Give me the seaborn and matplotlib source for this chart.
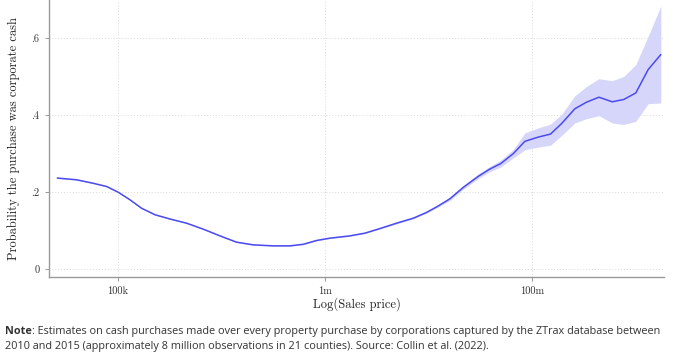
import numpy as np
import pandas as pd
import seaborn as sns
import matplotlib.pyplot as plt

# Binned log sales price (position on axis: 100k = 0, 1m = 1, 100m = 2)
log_price = [-0.293, -0.2, -0.12, -0.055, 0.0, 0.058, 0.114, 0.179, 0.251, 0.332,
             0.412, 0.493, 0.573, 0.654, 0.751, 0.831, 0.895, 0.96, 1.024, 1.121,
             1.193, 1.266, 1.346, 1.427, 1.491, 1.548, 1.604, 1.668, 1.741, 1.797,
             1.849, 1.91, 1.966, 2.03, 2.09, 2.143, 2.208, 2.264, 2.324, 2.388,
             2.444, 2.502, 2.562, 2.623]
prob_cash = [0.2365, 0.232, 0.223, 0.2146, 0.2, 0.18, 0.158, 0.141, 0.130, 0.119,
             0.1035, 0.086, 0.0696, 0.0626, 0.06, 0.06, 0.064, 0.074, 0.080, 0.086,
             0.093, 0.105, 0.119, 0.132, 0.147, 0.164, 0.1825, 0.212, 0.241, 0.26,
             0.274, 0.30, 0.332, 0.343, 0.351, 0.378, 0.417, 0.434, 0.447, 0.435,
             0.441, 0.458, 0.519, 0.558]
ci_low = [0.2355, 0.231, 0.222, 0.2136, 0.199, 0.179, 0.157, 0.140, 0.129, 0.118,
          0.1025, 0.085, 0.0686, 0.0616, 0.059, 0.059, 0.063, 0.073, 0.079, 0.085,
          0.092, 0.104, 0.117, 0.130, 0.145, 0.161, 0.178, 0.207, 0.235, 0.253,
          0.265, 0.289, 0.310, 0.317, 0.322, 0.347, 0.380, 0.391, 0.399, 0.380,
          0.376, 0.384, 0.430, 0.432]
ci_high = [0.2375, 0.233, 0.224, 0.2156, 0.201, 0.181, 0.159, 0.142, 0.131, 0.120,
           0.1045, 0.087, 0.0706, 0.0636, 0.061, 0.061, 0.065, 0.075, 0.081, 0.087,
           0.094, 0.106, 0.121, 0.134, 0.149, 0.167, 0.187, 0.217, 0.247, 0.267,
           0.283, 0.311, 0.354, 0.367, 0.377, 0.402, 0.451, 0.475, 0.495, 0.490,
           0.501, 0.532, 0.606, 0.684]

tick_pos = [0, 1, 2]
tick_labels = ['100k', '1m', '100m']
ytick_pos = [0, 0.2, 0.4, 0.6]
ytick_labels = ['0', '.2', '.4', '.6']

df = pd.DataFrame({'log_price': log_price, 'prob': prob_cash,
                   'lo': ci_low, 'hi': ci_high})

sns.set_style('white')
plt.rcParams['font.family'] = ['cmr10', 'DejaVu Serif']

fig = plt.figure(figsize=(6.75, 3.56), dpi=100)
ax = fig.add_axes([0.0726, 0.222, 0.911, 0.778])

ax.fill_between(df['log_price'], df['lo'], df['hi'], color='#d6d6fb', lw=0)
sns.lineplot(data=df, x='log_price', y='prob', color='#4a4af0', lw=1.1, ax=ax)

ax.set_xlim(-0.333, 2.638)
ax.set_ylim(-0.021, 0.70)
ax.set_xticks(tick_pos)
ax.set_xticklabels(tick_labels, fontsize=7.5)
ax.set_yticks(ytick_pos)
ax.set_yticklabels(ytick_labels, fontsize=7.5)
ax.grid(True, linestyle=(0, (1, 2)), color='#d9d9d9', lw=0.7)
ax.tick_params(axis='both', length=3, width=0.6, color='#888888', pad=4,
               bottom=True, left=True, labelcolor='#333333')
for side in ['top', 'right']:
    ax.spines[side].set_visible(False)
for side in ['left', 'bottom']:
    ax.spines[side].set_color('#999999')
    ax.spines[side].set_linewidth(1.0)

ax.set_xlabel('Log(Sales price)', fontsize=9, labelpad=1, color='#222222')
ax.set_ylabel('Probability the purchase was corporate cash', fontsize=9,
              labelpad=8, color='#222222')

note_font = ['Open Sans', 'DejaVu Sans']
note = fig.text(0.007, 0.062, 'Note', fontsize=7.8, fontweight='bold',
                family=note_font, color='#333333')
fig.text(0.007, 0.019,
         '2010 and 2015 (approximately 8 million observations in 21 counties). '
         'Source: Collin et al. (2022).',
         fontsize=7.8, family=note_font, color='#333333')
ax.annotate(': Estimates on cash purchases made over every property purchase by '
            'corporations captured by the ZTrax database between',
            xy=(1, 0), xycoords=note, va='bottom', ha='left',
            fontsize=7.8, family=note_font, color='#333333',
            annotation_clip=False)

fig.savefig('out.png', dpi=100)
